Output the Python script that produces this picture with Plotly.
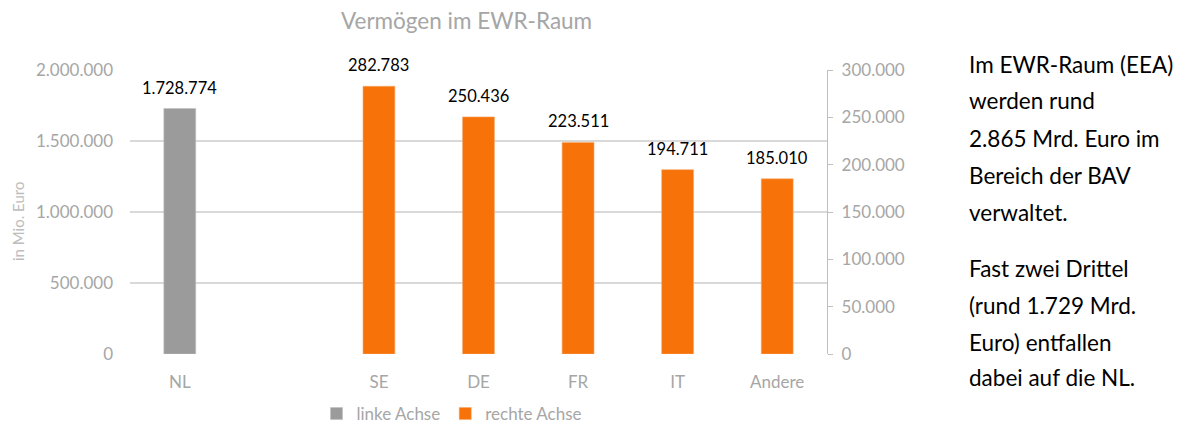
import plotly.graph_objects as go

categories = ["NL", " ", "SE", "DE", "FR", "IT", "Andere"]
left_cats = ["NL"]
left_vals = [1728774]
right_cats = ["SE", "DE", "FR", "IT", "Andere"]
right_vals = [282783, 250436, 223511, 194711, 185010]
left_ticks = [0, 500000, 1000000, 1500000, 2000000]
right_ticks = [0, 50000, 100000, 150000, 200000, 250000, 300000]
side_lines_1 = ["Im EWR-Raum (EEA)", "werden rund", "2.865 Mrd. Euro im", "Bereich der BAV", "verwaltet."]
side_lines_2 = ["Fast zwei Drittel", "(rund 1.729 Mrd.", "Euro) entfallen", "dabei auf die NL."]

FONT = "Lato"
GRAY_TXT = "#a6a6a6"
GRAY_BAR = "#9b9b9b"
ORANGE = "#f77208"

# page has an 8px body margin: build the figure in page pixels, offset by 8
OFF = 8
W, H = 1184 - OFF, 425 - OFF
L, R, T, B = 130 - OFF, 1184 - 827, 70 - OFF, 425 - 354
pw, ph = W - L - R, H - T - B
def px(x): return (x - OFF - L) / pw
def py(y): return (H - B - (y - OFF)) / ph

fig = go.Figure()
fig.add_trace(go.Bar(
    x=left_cats, y=left_vals, name="linke Achse", yaxis="y",
    marker=dict(color=GRAY_BAR, line=dict(color="#c0c0c0", width=0.6)),
    width=0.32,
))
fig.add_trace(go.Bar(
    x=right_cats, y=right_vals, name="rechte Achse", yaxis="y2",
    marker=dict(color=ORANGE, line=dict(color="#f9a868", width=0.6)),
    width=0.32,
))

def fmt(v):
    return f"{v:,d}".replace(",", ".")

anns = []
for c, v in zip(left_cats, left_vals):
    anns.append(dict(x=c, y=v, xref="x", yref="y", text=fmt(v), showarrow=False,
                     yanchor="middle", yshift=21,
                     font=dict(size=16.5, color="#000000", family=FONT)))
for c, v in zip(right_cats, right_vals):
    anns.append(dict(x=c, y=v, xref="x", yref="y2", text=fmt(v), showarrow=False,
                     yanchor="middle", yshift=21,
                     font=dict(size=16.5, color="#000000", family=FONT)))

anns.append(dict(text="Vermögen im EWR-Raum", x=px(466), y=py(21), xref="paper", yref="paper",
                 xanchor="center", yanchor="middle", showarrow=False,
                 font=dict(size=22.5, color=GRAY_TXT, family=FONT)))
anns.append(dict(text="in Mio. Euro", textangle=-90, x=px(18), y=py(222), xref="paper",
                 yref="paper", xanchor="center", yanchor="middle", showarrow=False,
                 font=dict(size=15, color="#bdbdbd", family=FONT)))

ys1 = [64, 101, 138, 175, 212]
ys2 = [268, 305, 342, 378]
for txt, yy in list(zip(side_lines_1, ys1)) + list(zip(side_lines_2, ys2)):
    anns.append(dict(text=txt, x=px(967), y=py(yy), xref="paper", yref="paper",
                     xanchor="left", yanchor="middle", showarrow=False,
                     font=dict(size=22.5, color="#000000", family=FONT)))

fig.update_layout(
    width=W, height=H,
    margin=dict(l=L, r=R, t=T, b=B, autoexpand=False),
    paper_bgcolor="white", plot_bgcolor="white",
    separators=",.",
    barmode="overlay",
    font=dict(family=FONT, color=GRAY_TXT, size=17),
    xaxis=dict(categoryorder="array", categoryarray=categories, type="category",
               showgrid=False, showline=False, ticks="", zeroline=False,
               tickfont=dict(size=17, color=GRAY_TXT), ticklabelstandoff=16),
    yaxis=dict(range=[0, 2000000], tickvals=left_ticks, tickformat=",d",
               showgrid=True, gridcolor="#d9d9d9", gridwidth=2, zeroline=False,
               showline=False, tickfont=dict(size=17, color=GRAY_TXT),
               ticklabelstandoff=16, layer="below traces"),
    yaxis2=dict(range=[0, 300000], tickvals=right_ticks, tickformat=",d",
                overlaying="y", side="right", showgrid=False, zeroline=False,
                showline=True, linecolor="#bfbfbf", linewidth=1.3,
                ticks="outside", ticklen=5, tickcolor="#bfbfbf",
                tickfont=dict(size=17, color=GRAY_TXT), ticklabelstandoff=5),
    legend=dict(orientation="h", x=px(452), xanchor="center", y=py(414), yanchor="middle",
                font=dict(size=17, color=GRAY_TXT), itemwidth=30, bgcolor="rgba(0,0,0,0)"),
    annotations=anns,
    showlegend=True,
)

fig.write_html("out.html")
